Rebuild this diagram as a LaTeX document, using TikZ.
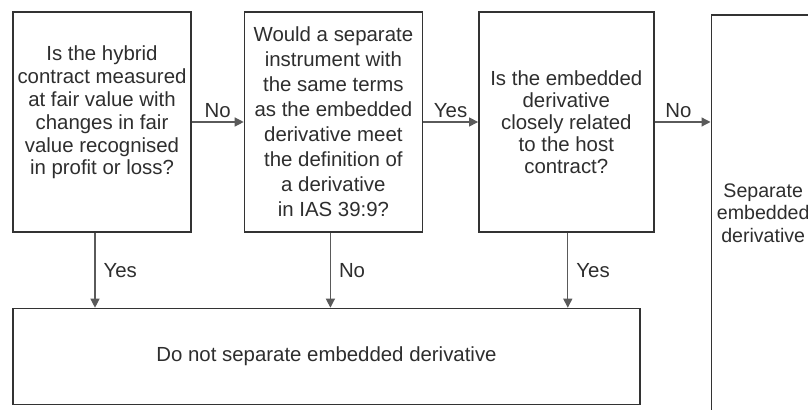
\documentclass[tikz,border=0pt]{standalone}
\usepackage{fontspec}
\setmainfont{Liberation Sans}
\usepackage{tikz}
\usetikzlibrary{positioning,arrows.meta}

\definecolor{boxline}{HTML}{333333}
\definecolor{arrline}{HTML}{5A5A5A}
\definecolor{inkgray}{HTML}{2E2E2E}

\begin{document}
\begin{tikzpicture}[
                x=0.5pt,y=-0.5pt,
                qbox/.style={draw=boxline,line width=0.7pt,align=center,text=inkgray,inner sep=2pt,
                    font=\fontsize{10.2pt}{11.4pt}\selectfont},
                arr/.style={draw=arrline,line width=0.6pt,-{Triangle[length=4.5pt,width=4.5pt]}},
                lab/.style={text=inkgray,inner sep=2pt,font=\fontsize{10.2pt}{11.4pt}\selectfont}
            ]
                \useasboundingbox (0,0) rectangle (808,410);
                \fill[white] (0,0) rectangle (808,410);
                \begin{scope}
                \clip (0,0) rectangle (808,410);
                \node [qbox,minimum width=89pt,minimum height=110pt] (b1) at (102,122) {Is the hybrid\\contract measured\\at fair value with\\changes in fair\\value recognised\\in profit or loss?\\ ~};
                \node [qbox,minimum width=89pt,minimum height=110pt,node distance=26pt,right=of b1,
                    font=\fontsize{10.2pt}{12.5pt}\selectfont] (b2) {Would a separate\\instrument with\\the same terms\\as the embedded\\derivative meet\\the definition of\\a derivative\\in IAS 39:9?};
                \node [qbox,minimum width=87.5pt,minimum height=110pt,node distance=27.5pt,right=of b2,
                    font=\fontsize{10.2pt}{11pt}\selectfont] (b3) {Is the embedded\\derivative\\closely related\\to the host\\contract?};
                \node [qbox,minimum width=52pt,minimum height=198pt,anchor=north west,
                    font=\fontsize{9.8pt}{11.2pt}\selectfont] (b4) at ([xshift=28pt,yshift=-1.5pt]b3.north east) {Separate\\embedded\\derivative};
                \node [qbox,minimum width=313.5pt,minimum height=48pt,anchor=north west] (dn) at ([yshift=-37.5pt]b1.south west) {Do not separate embedded derivative};
                \end{scope}
                % across
                \draw [arr] (b1.east) -- node [lab,above] {No} (b2.west);
                \draw [arr] (b2.east) -- node [lab,above] {Yes} (b3.west);
                \draw [arr] (b3.east) -- node [lab,above,xshift=-2pt] {No} (b3.east -| b4.west);
                % down
                \foreach \b/\s/\t in {b1/-3.5pt/Yes,b2/-1.5pt/No,b3/0.75pt/Yes} {
                    \draw [arr] ([xshift=\s]\b.south) -- node [lab,right,xshift=2pt] {\t} ([xshift=\s]\b.south |- dn.north);
                }
            \end{tikzpicture}
\end{document}
